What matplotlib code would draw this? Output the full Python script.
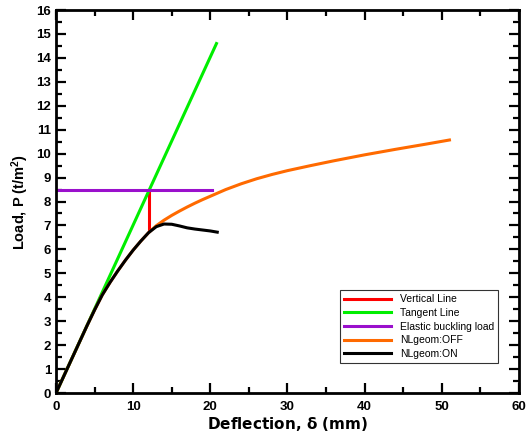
import numpy as np
import matplotlib.pyplot as plt
from matplotlib.ticker import MultipleLocator

plt.rcParams['font.family'] = ['Liberation Sans', 'DejaVu Sans']

# -------------------------------
# Data
# -------------------------------
tangent_x = [0, 20.8]
tangent_y = [0, 14.6]

vertical_x = [12.1, 12.1]
vertical_y = [6.75, 8.5]

buckling_x = [0, 20.2]
buckling_y = [8.5, 8.5]

off_x = [0, 1, 2, 3, 4, 5, 6, 7, 8, 9, 10, 11, 12, 13, 14, 15, 16, 17, 18, 19,
         20, 22, 24, 26, 28, 30, 33, 36, 40, 44, 48, 51]
off_y = [0, 0.7, 1.4, 2.1, 2.8, 3.47, 4.1, 4.62, 5.1, 5.55, 5.97, 6.35, 6.7,
         6.99, 7.22, 7.42, 7.6, 7.77, 7.93, 8.08, 8.22, 8.5, 8.74, 8.95, 9.13,
         9.29, 9.5, 9.7, 9.95, 10.18, 10.4, 10.57]

on_x = [0, 1, 2, 3, 4, 5, 6, 7, 8, 9, 10, 11, 12, 13, 14, 15, 16, 17, 18, 19, 20, 20.9]
on_y = [0, 0.7, 1.4, 2.1, 2.8, 3.47, 4.1, 4.62, 5.1, 5.55, 5.97, 6.35, 6.7,
        6.95, 7.06, 7.05, 6.98, 6.9, 6.85, 6.81, 6.77, 6.72]

# -------------------------------
# Plot
# -------------------------------
fig = plt.figure(figsize=(5.3, 4.36), dpi=100)
ax = fig.add_axes([0.1057, 0.0986, 0.8733, 0.8784])

lw = 2.2
ax.plot(vertical_x, vertical_y, color='#ff0000', lw=lw, label='Vertical Line')
ax.plot(tangent_x, tangent_y, color='#00ee00', lw=lw, label='Tangent Line')
ax.plot(buckling_x, buckling_y, color='#9a10cc', lw=lw, label='Elastic buckling load')
ax.plot(off_x, off_y, color='#ff6a00', lw=lw, solid_joinstyle='round', label='NLgeom:OFF')
ax.plot(on_x, on_y, color='black', lw=lw, solid_joinstyle='round', label='NLgeom:ON')

ax.set_xlim(0, 60)
ax.set_ylim(0, 16)
ax.xaxis.set_major_locator(MultipleLocator(10))
ax.xaxis.set_minor_locator(MultipleLocator(5))
ax.yaxis.set_major_locator(MultipleLocator(1))
ax.yaxis.set_minor_locator(MultipleLocator(0.5))

ax.tick_params(which='both', direction='in', top=True, right=True, width=1.6)
ax.tick_params(which='major', length=7, labelsize=9.5)
ax.tick_params(which='minor', length=4)
ax.tick_params(axis='x', which='major', pad=6)
for lbl in ax.get_xticklabels() + ax.get_yticklabels():
    lbl.set_fontweight('bold')
for s in ax.spines.values():
    s.set_linewidth(2)

ax.set_xlabel('Deflection, $\\mathregular{\\delta}$ (mm)', fontsize=11, fontweight='bold',
              family='DejaVu Sans', labelpad=1)
ax.set_ylabel('Load, P (t/m$\\mathregular{^2}$)', fontsize=10.5, fontweight='bold')

leg = ax.legend(loc='lower right', bbox_to_anchor=(0.955, 0.078), fontsize=7.5,
                frameon=True, fancybox=False, edgecolor='black', handlelength=4.5,
                borderaxespad=0, labelspacing=0.35)
leg.get_frame().set_linewidth(0.8)

fig.savefig('out.png', dpi=100)
